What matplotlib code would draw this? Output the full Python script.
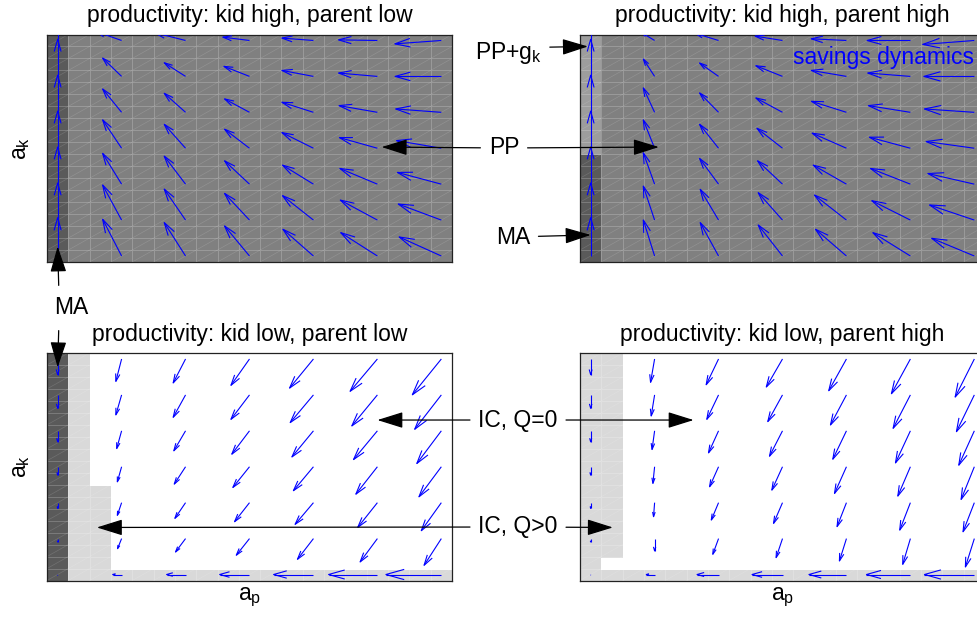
import numpy as np
import matplotlib.pyplot as plt
from matplotlib.collections import LineCollection
from matplotlib.colors import ListedColormap, BoundaryNorm

plt.rcParams['font.family'] = ['Liberation Sans', 'DejaVu Sans']
plt.rcParams['mathtext.fontset'] = 'custom'
plt.rcParams['mathtext.rm'] = 'Liberation Sans'
plt.rcParams['mathtext.it'] = 'Liberation Sans'

W, H = 977, 617
FS = 16.5
n_cells = 19
arrow_pos = [0.5, 3.5, 6.5, 9.5, 12.5, 15.5, 18.5]

# region codes: 0 IC Q=0, 1 IC Q>0, 2 PP, 3 PP+g_k, 4 MA
region_colors = ['#ffffff', '#d9d9d9', '#808080', '#9d9d9d', '#5a5a5a']

titles = ['productivity: kid high, parent low', 'productivity: kid high, parent high',
          'productivity: kid low, parent low', 'productivity: kid low, parent high']

# savings dynamics, rows from bottom (a_k) to top, columns from left (a_p) to right
tl_u = [[0, -0.89, -1.00, -1.17, -1.43, -1.72, -1.98],
        [0, -0.89, -1.00, -1.17, -1.45, -1.74, -2.02],
        [0, -0.89, -1.00, -1.17, -1.45, -1.76, -2.06],
        [0, -0.89, -1.00, -1.17, -1.48, -1.78, -2.10],
        [0, -0.89, -1.00, -1.17, -1.48, -1.80, -2.14],
        [0, -0.89, -1.00, -1.20, -1.48, -1.82, -2.17],
        [0, -1.20, -1.45, -1.25, -1.48, -1.82, -2.18]]
tl_v = [[3.2, 3.07, 2.79, 2.51, 2.23, 1.95, 1.59],
        [3.1, 2.93, 2.59, 2.23, 2.04, 1.67, 1.34],
        [3.1, 2.57, 2.34, 1.95, 1.59, 1.31, 0.98],
        [3.1, 2.37, 2.00, 1.59, 1.31, 0.89, 0.64],
        [3.1, 1.95, 1.59, 1.12, 0.84, 0.56, 0.28],
        [3.1, 1.53, 1.14, 0.84, 0.50, 0.28, 0.00],
        [3.1, 0.75, 0.65, 0.28, 0.20, 0.05, -0.28]]

tr_u = [[0, -0.53, -0.86, -1.14, -1.45, -1.76, -2.00],
        [0, -0.53, -0.86, -1.14, -1.50, -1.81, -2.10],
        [0, -0.53, -0.89, -1.17, -1.56, -1.87, -2.18],
        [0, -0.53, -0.89, -1.20, -1.61, -1.92, -2.26],
        [0, -0.53, -0.89, -1.25, -1.64, -1.97, -2.34],
        [0, -0.53, -0.89, -1.25, -1.65, -2.00, -2.37],
        [0, -0.60, -1.10, -1.28, -1.65, -2.03, -2.42]]
tr_v = [[3.2, 3.01, 2.79, 2.59, 2.23, 1.95, 1.48],
        [3.1, 2.84, 2.57, 2.29, 2.09, 1.62, 1.26],
        [3.1, 2.62, 2.15, 1.95, 1.59, 1.31, 0.89],
        [3.1, 2.37, 2.00, 1.67, 1.26, 0.92, 0.56],
        [3.1, 2.04, 1.62, 1.20, 0.92, 0.56, 0.28],
        [3.1, 1.45, 1.12, 0.89, 0.50, 0.28, 0.00],
        [3.1, 0.65, 0.60, 0.36, 0.14, 0.00, -0.33]]

bl_u = [[0, -0.42, -0.89, -1.40, -1.87, -2.29, -2.60],
        [0, -0.19, -0.47, -0.62, -0.75, -0.81, -0.81],
        [0, -0.20, -0.50, -0.70, -0.86, -0.92, -0.94],
        [0, -0.20, -0.53, -0.78, -0.94, -1.01, -1.05],
        [0, -0.23, -0.55, -0.83, -1.01, -1.12, -1.15],
        [0, -0.27, -0.58, -0.87, -1.09, -1.20, -1.25],
        [0, -0.27, -0.58, -0.87, -1.12, -1.28, -1.36]]
bl_v = [[-0.05, 0, 0, 0, 0, 0, 0],
        [-0.28, -0.84, -1.12, -1.39, -1.73, -1.95, -2.23],
        [-0.47, -1.06, -1.31, -1.59, -1.81, -2.06, -2.34],
        [-0.70, -1.26, -1.45, -1.73, -2.00, -2.29, -2.51],
        [-0.92, -1.48, -1.67, -1.95, -2.18, -2.40, -2.73],
        [-1.12, -1.67, -1.87, -2.04, -2.31, -2.59, -2.87],
        [-1.31, -1.87, -2.00, -2.20, -2.43, -2.70, -2.99]]

br_u = [[0, -0.39, -1.01, -1.43, -1.76, -2.06, -2.34],
        [0, 0.00, -0.27, -0.30, -0.33, -0.36, -0.42],
        [0, -0.05, -0.34, -0.42, -0.44, -0.50, -0.53],
        [0, -0.08, -0.42, -0.50, -0.56, -0.59, -0.62],
        [0, -0.12, -0.47, -0.61, -0.64, -0.70, -0.73],
        [0, -0.16, -0.55, -0.69, -0.75, -0.81, -0.84],
        [0, -0.19, -0.58, -0.76, -0.83, -0.89, -0.90]]
br_v = [[-0.03, 0, 0, 0, 0, 0, 0],
        [-0.28, -1.03, -1.31, -1.59, -1.87, -2.15, -2.37],
        [-0.47, -1.17, -1.45, -1.73, -2.00, -2.29, -2.43],
        [-0.70, -1.39, -1.67, -1.95, -2.23, -2.45, -2.73],
        [-0.92, -1.56, -1.84, -2.12, -2.37, -2.68, -2.87],
        [-1.12, -1.76, -2.04, -2.23, -2.51, -2.79, -3.07],
        [-1.31, -1.95, -2.15, -2.34, -2.65, -2.90, -3.18]]

# region maps [row (a_k), col (a_p)]
tl_reg = np.full((n_cells, n_cells), 2)
tl_reg[:, 0] = 4
tr_reg = np.full((n_cells, n_cells), 2)
tr_reg[:9, 0] = 4
tr_reg[9:, 0] = 3
bl_reg = np.full((n_cells, n_cells), 0)
bl_reg[0, :] = 1
bl_reg[:, 1] = 1
bl_reg[:8, 2] = 1
bl_reg[:, 0] = 4
br_reg = np.full((n_cells, n_cells), 0)
br_reg[0, :] = 1
br_reg[:, 0] = 1
br_reg[2:, 1] = 1

cmap = ListedColormap(region_colors)
norm = BoundaryNorm(np.arange(-0.5, 5), cmap.N)

ax_w, ax_h = 405, 227.5
px_x = ax_w / n_cells
px_y = ax_h / n_cells

fig = plt.figure(figsize=(W / 100, H / 100), dpi=100)


def panel(left, top, reg, title):
    ax = fig.add_axes([left / W, (H - top - ax_h) / H, ax_w / W, ax_h / H])
    edges = np.arange(n_cells + 1)
    ax.pcolormesh(edges, edges, reg, cmap=cmap, norm=norm,
                  edgecolors=(1, 1, 1, 0.2), linewidth=0.6)
    for c in range(-n_cells, n_cells):
        ax.plot([0, n_cells], [c, c + n_cells], color='white', alpha=0.14, lw=0.5)
    ax.set_xlim(0, n_cells)
    ax.set_ylim(0, n_cells)
    ax.set_xticks([])
    ax.set_yticks([])
    for s in ax.spines.values():
        s.set_linewidth(0.9)
        s.set_color('#222222')
    ax.set_title(title, fontsize=FS, pad=9)
    return ax


def field(ax, U, V, a=0.33, b=0.28):
    X, Y = np.meshgrid(arrow_pos, arrow_pos)
    segs = []
    for x, y, u, v in zip(X.ravel(), Y.ravel(), np.ravel(U), np.ravel(V)):
        tx, ty = x + u, y + v
        pu, pv = u * px_x, v * px_y
        h1 = (tx - a * (pu + b * pv) / px_x, ty - a * (pv - b * pu) / px_y)
        h2 = (tx - a * (pu - b * pv) / px_x, ty - a * (pv + b * pu) / px_y)
        segs.append([(x, y), (tx, ty)])
        segs.append([h1, (tx, ty), h2])
    ax.add_collection(LineCollection(segs, colors='blue', linewidths=0.8, zorder=3))


ax_tl = panel(47, 34.5, tl_reg, titles[0])
ax_tr = panel(580, 34.5, tr_reg, titles[1])
ax_bl = panel(47, 353, bl_reg, titles[2])
ax_br = panel(580, 353, br_reg, titles[3])

field(ax_tl, tl_u, tl_v)
field(ax_tr, tr_u, tr_v)
field(ax_bl, bl_u, bl_v)
field(ax_br, br_u, br_v)

for ax in (ax_tl, ax_bl):
    ax.set_ylabel(r'a$_\mathregular{k}$', fontsize=FS, labelpad=11)
for ax in (ax_bl, ax_br):
    ax.set_xlabel(r'a$_\mathregular{p}$', fontsize=FS, labelpad=4)

ax_tr.text(0.525, 0.9, 'savings dynamics', transform=ax_tr.transAxes,
           color='blue', fontsize=FS, ha='left', va='center', zorder=6)


def callout(ax, label, tip, txt, relpos=(0.5, 0.5), shrink=4, show=True):
    ax.annotate(label, xy=tip, xycoords='data',
                xytext=(txt[0], H - txt[1]), textcoords='figure pixels',
                ha='center', va='center', fontsize=FS,
                color='black' if show else 'none', zorder=6, annotation_clip=False,
                arrowprops=dict(arrowstyle='-|>,head_length=0.8,head_width=0.25',
                                mutation_scale=20, color='black', lw=0.9,
                                shrinkA=shrink, shrinkB=0, relpos=relpos))


callout(ax_tl, 'MA', (0.5, 1.3), (71, 308), relpos=(0.15, 1), shrink=6)
callout(ax_bl, 'MA', (0.5, 17.8), (71, 308), relpos=(0.15, 0), shrink=6, show=False)
callout(ax_tl, 'PP', (15.7, 9.6), (504, 148))
callout(ax_tr, 'PP', (3.7, 9.6), (504, 148), show=False)
callout(ax_tr, r'PP+g$_\mathregular{k}$', (0.37, 18.0), (508, 53), relpos=(1, 0.72))
callout(ax_tr, 'MA', (0.5, 2.26), (513, 237))
callout(ax_bl, 'IC, Q=0', (15.5, 13.4), (518, 420))
callout(ax_br, 'IC, Q=0', (5.33, 13.4), (518, 420), show=False)
callout(ax_bl, 'IC, Q>0', (2.34, 4.43), (518, 527))
callout(ax_br, 'IC, Q>0', (1.54, 4.43), (518, 527), show=False)

fig.savefig('out.png', dpi=100)
